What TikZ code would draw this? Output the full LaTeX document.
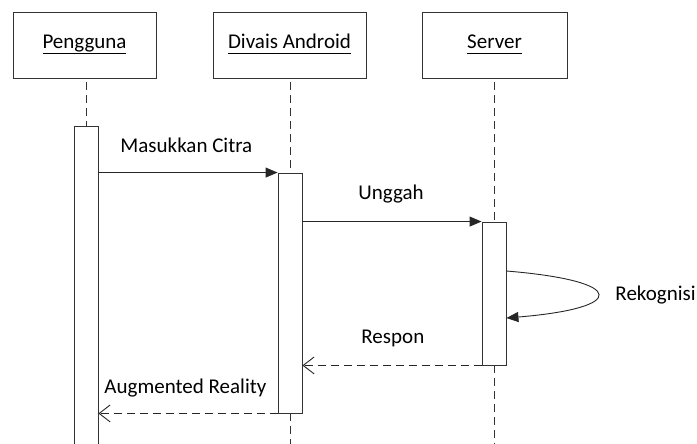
\documentclass[tikz,border=0pt]{standalone}
\usepackage{fontspec}
\setmainfont{Carlito}
\usetikzlibrary{arrows.meta}
% underline drawn as a rule just below the descenders
\newcommand\objname[1]{\setbox0\hbox{#1}\rlap{\rule[-4.6pt]{\wd0}{0.9pt}}\box0}
\begin{document}
\begin{tikzpicture}[x=1pt,y=-1pt,
  font=\fontsize{21}{25}\selectfont,
  line width=0.9pt,
  objbox/.style={draw=black!80, minimum width=143pt, minimum height=66pt, inner sep=0pt},
  actbox/.style={draw=black!80, minimum width=24pt, inner sep=0pt},
  lifeline/.style={draw=black!80, dash pattern=on 8pt off 5pt},
  syncmsg/.style={draw=black!85, -{Triangle[length=12pt,width=10pt]}},
  replymsg/.style={draw=black!85, dash pattern=on 8pt off 5pt, -{Straight Barb[length=11pt,width=17pt,line width=0.9pt]}},
  msglabel/.style={anchor=base west, inner sep=0pt}]
  \useasboundingbox (0,0) rectangle (697,444);

  % object boxes
  \node[objbox] (boxP) at (84.5,45) {};
  \node[objbox, minimum width=153pt] (boxA) at (289.5,45) {};
  \node[objbox, minimum width=145pt] (boxS) at (494.5,45) {};
  \node[anchor=base, inner sep=0pt] (tP) at (84.5,49) {\objname{Pengguna}};
  \node[anchor=base, inner sep=0pt] (tA) at (289.5,49) {\objname{Divais Android}};
  \node[anchor=base, inner sep=0pt] (tS) at (494.5,49) {\objname{Server}};

  % activation bars
  \node[actbox, minimum height=330pt] (aP) at (86,291) {};
  \node[actbox, minimum height=240pt] (aA) at (290,293) {};
  \node[actbox, minimum height=143pt] (aS) at (494,293.5) {};

  % lifeline ends at the bottom edge
  \coordinate (endA) at (290,450);
  \coordinate (endS) at (494,450);

  % lifelines
  \draw[lifeline, shorten <=4pt] (boxP.south -| aP.north) -- (aP.north);
  \draw[lifeline, shorten <=4pt] (boxA.south -| aA.north) -- (aA.north);
  \draw[lifeline] (aA.south) -- (endA);
  \draw[lifeline, shorten <=4pt] (boxS.south -| aS.north) -- (aS.north);
  \draw[lifeline] (aS.south) -- (endS);

  % messages
  \draw[syncmsg] (aP.east |- aA.north west) -- (aA.north west);
  \node[msglabel] (lMasuk) at (120,153) {Masukkan Citra};

  \draw[syncmsg] (aA.east |- aS.north west) -- (aS.north west);
  \node[msglabel] (lUnggah) at (358,199) {Unggah};

  \coordinate (r1) at (aS.east |- 0,271);
  \coordinate (r2) at (aS.east |- 0,318);
  \draw[syncmsg] (r1) .. controls (628,281) and (628,308) .. (r2);
  \node[msglabel] (lRekog) at (615,300) {Rekognisi};

  \draw[replymsg] (aS.south west) -- (aA.east |- aS.south west);
  \node[msglabel] (lRespon) at (361,343) {Respon};

  \draw[replymsg] (aA.south west) -- (aP.east |- aA.south west);
  \node[msglabel] (lAR) at (104,393) {Augmented Reality};
\end{tikzpicture}
\end{document}
